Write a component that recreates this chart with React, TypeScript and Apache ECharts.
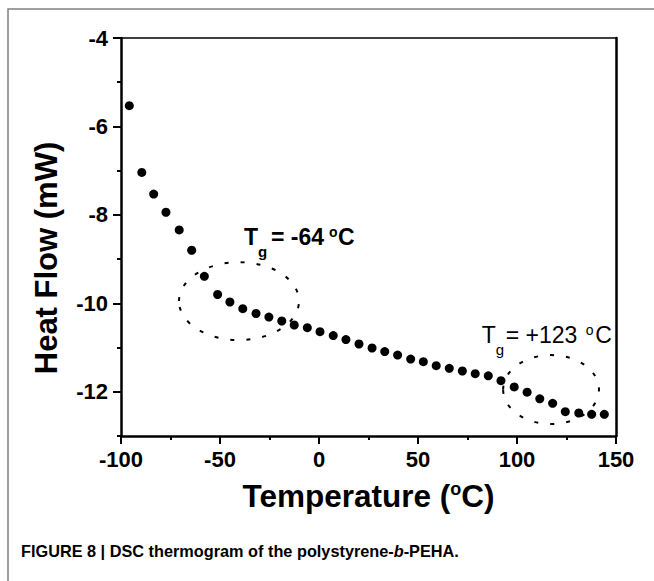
import React, { useEffect, useRef } from "react";
import * as echarts from "echarts";

const FONT = '"Liberation Sans", Arial, Helvetica, sans-serif';

// Temperature (°C) and heat flow (mW)
const temperature = [
  -95.8, -89.5, -83.5, -77.3, -70.6, -64.3, -57.9, -51.2, -45.0, -38.5,
  -31.8, -25.3, -18.8, -12.5, -5.9, 0.5, 7.2, 13.6, 20.2, 26.8,
  33.2, 39.7, 46.3, 52.7, 59.2, 65.8, 72.4, 78.9, 85.5, 91.9,
  98.6, 105.1, 111.5, 118.0, 124.4, 131.2, 137.7, 144.1,
];
const heatFlow = [
  -5.53, -7.04, -7.53, -7.94, -8.34, -8.8, -9.39, -9.8, -9.97, -10.12,
  -10.23, -10.31, -10.4, -10.49, -10.55, -10.64, -10.73, -10.82, -10.92, -11.01,
  -11.09, -11.17, -11.26, -11.32, -11.41, -11.47, -11.53, -11.59, -11.64, -11.75,
  -11.89, -12.01, -12.16, -12.26, -12.45, -12.48, -12.51, -12.51,
];
const yMajorTicks = [-12, -10, -8, -6, -4];
const yMinorTicks = [-13, -11, -9, -7, -5];

// Annotations (data coordinates)
const tgLabels = [
  { parts: ["T", "g", "= -64", "o", "C"], anchor: [-37.9, -8.51], bold: true },
  { parts: ["T", "g", "= +123", "o", "C"], anchor: [82.2, -10.72], bold: false },
];
const ellipses = [
  { center: [-40.4, -9.95], rx: 30.3, ry: 0.88 },
  { center: [117.2, -11.95], rx: 24.2, ry: 0.78 },
];

export default function App() {
  const ref = useRef<HTMLDivElement>(null);
  useEffect(() => {
    if (!ref.current) return;
    const chart = echarts.init(ref.current, null, { renderer: "svg" });
    const axisFont = { color: "#000", fontFamily: FONT, fontWeight: "bold" as const, fontSize: 22 };
    chart.setOption({
      animation: false,
      backgroundColor: "#fff",
      grid: { left: 121, top: 38, right: 38, bottom: 145, outerBoundsMode: "none" },
      xAxis: [
        {
          type: "value", min: -100, max: 150, interval: 50, position: "bottom",
          axisLine: { show: true, onZero: false, lineStyle: { color: "#000", width: 2.5 } },
          axisTick: { show: true, inside: false, length: 8, lineStyle: { color: "#000", width: 2 } },
          minorTick: { show: true, splitNumber: 2, length: 4, lineStyle: { color: "#000", width: 2 } },
          splitLine: { show: false }, minorSplitLine: { show: false },
          axisLabel: { ...axisFont, margin: 12 },
        },
        {
          type: "value", min: -100, max: 150, position: "top",
          axisLine: { show: true, onZero: false, lineStyle: { color: "#000", width: 1.5 } },
          axisTick: { show: false }, axisLabel: { show: false }, splitLine: { show: false },
        },
      ],
      yAxis: [
        {
          type: "value", min: -13, max: -4, position: "left",
          axisLine: { show: true, onZero: false, lineStyle: { color: "#000", width: 2.5 } },
          axisTick: { show: true, inside: false, length: 8, customValues: yMajorTicks, lineStyle: { color: "#000", width: 2 } },
          axisLabel: { ...axisFont, margin: 13, customValues: yMajorTicks },
          splitLine: { show: false },
        },
        {
          type: "value", min: -13, max: -4, position: "left",
          axisLine: { show: false, onZero: false },
          axisTick: { show: true, inside: false, length: 4, customValues: yMinorTicks, lineStyle: { color: "#000", width: 2 } },
          axisLabel: { show: false }, splitLine: { show: false },
        },
        {
          type: "value", min: -13, max: -4, position: "right",
          axisLine: { show: true, onZero: false, lineStyle: { color: "#000", width: 2.5 } },
          axisTick: { show: false }, axisLabel: { show: false }, splitLine: { show: false },
        },
      ],
      series: [
        {
          type: "scatter", xAxisIndex: 0, yAxisIndex: 0,
          symbol: "circle", symbolSize: 9,
          itemStyle: { color: "#000", opacity: 1 },
          data: temperature.map((t, i) => [t, heatFlow[i]]),
        },
      ],
    });

    const toPx = (p: number[]) => chart.convertToPixel({ xAxisIndex: 0, yAxisIndex: 0 }, p) as number[];
    const graphics: any[] = [];
    graphics.push({
      type: "rect", z: -1, silent: true,
      shape: { x: 8, y: 9, width: 700, height: 700 },
      style: { fill: "none", stroke: "#808080", lineWidth: 1.5 },
    });
    ellipses.forEach((e) => {
      const c = toPx(e.center);
      const r = toPx([e.center[0] + e.rx, e.center[1] - e.ry]);
      graphics.push({
        type: "ellipse", silent: true,
        shape: { cx: c[0], cy: c[1], rx: Math.abs(r[0] - c[0]), ry: Math.abs(r[1] - c[1]) },
        style: { fill: "none", stroke: "#000", lineWidth: 2, lineDash: [4, 12] },
      });
    });
    tgLabels.forEach((l) => {
      const a = toPx(l.anchor);
      const w = l.bold ? "bold" : "normal";
      const base = { fill: "#000", fontFamily: FONT, fontWeight: w, verticalAlign: "middle", align: "left" };
      const offs = l.bold
        ? [[0, 0], [14, 14], [27, 0], [85, -5], [94, 0]]
        : [[0, 0], [14, 14], [24, 0], [104, -4.7], [113.5, 0]];
      const sizes = [23, 15, 23, 14, 23];
      graphics.push({
        type: "group", x: a[0], y: a[1], silent: true,
        children: l.parts.map((t, i) => ({
          type: "text", x: offs[i][0], y: offs[i][1],
          style: { ...base, text: t, fontSize: sizes[i] },
        })),
      });
    });
    // Axis titles
    graphics.push({
      type: "text", x: 368.5, y: 496, silent: true,
      style: {
        text: "{a|Temperature (}{s|o}{a|C)}",
        align: "center", verticalAlign: "middle",
        rich: {
          a: { fontFamily: FONT, fontWeight: "bold", fontSize: 31.5, fill: "#000" },
          s: { fontFamily: FONT, fontWeight: "bold", fontSize: 18, fill: "#000", verticalAlign: "top" },
        },
      },
    });
    graphics.push({
      type: "text", x: 46, y: 258, rotation: Math.PI / 2, silent: true,
      style: {
        text: "Heat Flow (mW)", fill: "#000", fontFamily: FONT, fontWeight: "bold", fontSize: 31,
        align: "center", verticalAlign: "middle",
      },
    });
    // Caption
    graphics.push({
      type: "text", x: 21, y: 551, silent: true,
      style: {
        text: "{n|FIGURE 8 | DSC thermogram of the polystyrene-}{i|b}{n|-PEHA.}",
        align: "left", verticalAlign: "middle",
        rich: {
          n: { fontFamily: FONT, fontWeight: "bold", fontSize: 16.3, fill: "#000" },
          i: { fontFamily: FONT, fontWeight: "bold", fontStyle: "italic", fontSize: 16.3, fill: "#000" },
        },
      },
    });
    chart.setOption({ graphic: graphics });
    return () => chart.dispose();
  }, []);
  return (
    <div
      ref={ref}
      style={{ position: "fixed", left: 0, top: 0, width: 654, height: 581, background: "#fff" }}
    />
  );
}
